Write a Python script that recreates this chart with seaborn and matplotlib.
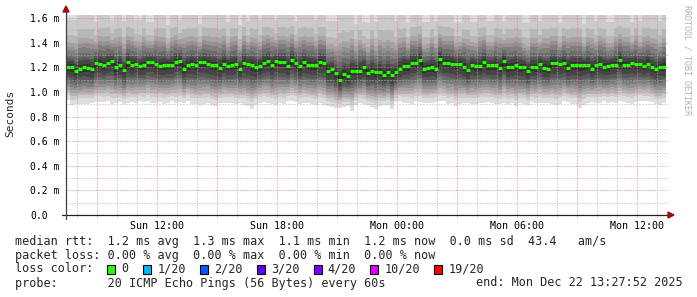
import numpy as np
import pandas as pd
import matplotlib
matplotlib.use("Agg")
import matplotlib.pyplot as plt
import matplotlib.transforms as mtransforms
from matplotlib.patches import Rectangle, Polygon
import seaborn as sns

# ---------------- data ----------------
# median RTT per 12-minute bin (ms)
median_ms = [
    1.205, 1.20, 1.173, 1.19, 1.20, 1.195, 1.185, 1.235, 1.23, 1.215,
    1.235, 1.25, 1.20, 1.215, 1.18, 1.24, 1.215, 1.23, 1.21, 1.215,
    1.24, 1.24, 1.225, 1.21, 1.22, 1.22, 1.22, 1.245, 1.255, 1.19,
    1.215, 1.23, 1.215, 1.24, 1.24, 1.23, 1.22, 1.215, 1.195, 1.23,
    1.21, 1.215, 1.225, 1.19, 1.235, 1.225, 1.215, 1.20, 1.21, 1.235,
    1.25, 1.215, 1.25, 1.24, 1.24, 1.21, 1.26, 1.235, 1.21, 1.24,
    1.22, 1.22, 1.22, 1.24, 1.235, 1.173, 1.185, 1.15, 1.10, 1.145,
    1.13, 1.173, 1.17, 1.17, 1.20, 1.15, 1.173, 1.16, 1.165, 1.135,
    1.16, 1.135, 1.16, 1.19, 1.21, 1.21, 1.235, 1.235, 1.26, 1.19,
    1.195, 1.20, 1.19, 1.265, 1.235, 1.235, 1.225, 1.225, 1.23, 1.205,
    1.175, 1.22, 1.21, 1.21, 1.24, 1.215, 1.215, 1.22, 1.195, 1.255,
    1.20, 1.205, 1.22, 1.20, 1.205, 1.173, 1.20, 1.20, 1.23, 1.195,
    1.19, 1.232, 1.232, 1.225, 1.232, 1.195, 1.22, 1.215, 1.215, 1.22,
    1.22, 1.19, 1.215, 1.225, 1.205, 1.21, 1.22, 1.22, 1.26, 1.22,
    1.22, 1.235, 1.225, 1.225, 1.21, 1.23, 1.20, 1.185, 1.205, 1.205,
]
# fastest ping per bin (bottom edge of the smoke, ms)
smoke_low_ms = [
    0.931, 0.890, 0.904, 0.904, 0.904, 0.904, 0.910, 0.915, 0.918, 0.918,
    0.923, 0.901, 0.910, 0.915, 0.901, 0.910, 0.915, 0.910, 0.923, 0.918,
    0.928, 0.912, 0.912, 0.918, 0.904, 0.910, 0.923, 0.912, 0.918, 0.910,
    0.928, 0.901, 0.901, 0.896, 0.901, 0.907, 0.890, 0.882, 0.910, 0.910,
    0.912, 0.910, 0.901, 0.912, 0.896, 0.882, 0.863, 0.896, 0.910, 0.918,
    0.910, 0.901, 0.890, 0.910, 0.901, 0.923, 0.923, 0.918, 0.901, 0.910,
    0.910, 0.901, 0.890, 0.910, 0.896, 0.882, 0.874, 0.869, 0.869, 0.874,
    0.882, 0.847, 0.890, 0.910, 0.901, 0.890, 0.874, 0.863, 0.882, 0.890,
    0.896, 0.863, 0.918, 0.923, 0.910, 0.910, 0.901, 0.923, 0.918, 0.910,
    0.910, 0.910, 0.918, 0.923, 0.923, 0.901, 0.910, 0.882, 0.901, 0.910,
    0.910, 0.901, 0.901, 0.910, 0.910, 0.918, 0.910, 0.901, 0.901, 0.910,
    0.901, 0.910, 0.882, 0.910, 0.901, 0.896, 0.918, 0.910, 0.910, 0.910,
    0.910, 0.901, 0.890, 0.901, 0.923, 0.918, 0.901, 0.901, 0.869, 0.896,
    0.910, 0.918, 0.910, 0.910, 0.923, 0.910, 0.918, 0.910, 0.923, 0.918,
    0.910, 0.901, 0.918, 0.928, 0.928, 0.923, 0.918, 0.901, 0.896, 0.910,
]
# second-slowest ping per bin (ms); values above the chart top are clipped
smoke_high_ms = [
    1.585, 1.585, 1.585, 1.66, 1.66, 1.66, 1.66, 1.57, 1.66, 1.66,
    1.66, 1.585, 1.66, 1.66, 1.575, 1.66, 1.66, 1.585, 1.585, 1.66,
    1.57, 1.57, 1.66, 1.66, 1.66, 1.545, 1.66, 1.66, 1.585, 1.66,
    1.66, 1.66, 1.66, 1.555, 1.66, 1.66, 1.66, 1.66, 1.66, 1.66,
    1.57, 1.66, 1.66, 1.543, 1.66, 1.58, 1.66, 1.66, 1.585, 1.66,
    1.66, 1.66, 1.585, 1.66, 1.66, 1.66, 1.66, 1.575, 1.66, 1.66,
    1.66, 1.66, 1.585, 1.66, 1.66, 1.575, 1.575, 1.575, 1.66, 1.66,
    1.66, 1.66, 1.555, 1.66, 1.57, 1.56, 1.66, 1.57, 1.66, 1.66,
    1.66, 1.66, 1.58, 1.66, 1.66, 1.56, 1.66, 1.66, 1.66, 1.565,
    1.565, 1.66, 1.575, 1.66, 1.66, 1.66, 1.66, 1.56, 1.56, 1.66,
    1.66, 1.57, 1.57, 1.66, 1.66, 1.58, 1.58, 1.66, 1.66, 1.575,
    1.66, 1.66, 1.66, 1.66, 1.56, 1.56, 1.66, 1.66, 1.575, 1.66,
    1.66, 1.66, 1.66, 1.56, 1.66, 1.66, 1.66, 1.66, 1.66, 1.55,
    1.66, 1.66, 1.575, 1.66, 1.66, 1.565, 1.565, 1.66, 1.66, 1.66,
    1.66, 1.57, 1.66, 1.575, 1.66, 1.66, 1.66, 1.66, 1.58, 1.66,
]
# shape of the ping distribution inside a bin (fraction of the distance median->edge)
ping_frac_below = [0.85, 0.76, 0.68, 0.60, 0.52, 0.43, 0.35, 0.25, 0.12]   # pings 2..10
ping_frac_above = [0.06, 0.13, 0.18, 0.26, 0.35, 0.43, 0.52, 0.68]         # pings 11..18

start_hour = 7 + 27 / 60 + 52 / 3600      # Sun 07:27:52 (hours since Sun 00:00)
span_hours = 30.0
bin_hours = 0.2

x_tick_hours = [12, 18, 24, 30, 36]
x_tick_labels = ["Sun 12:00", "Sun 18:00", "Mon 00:00", "Mon 06:00", "Mon 12:00"]
y_ticks_ms = [0.0, 0.2, 0.4, 0.6, 0.8, 1.0, 1.2, 1.4, 1.6]
y_tick_labels = ["0.0", "0.2 m", "0.4 m", "0.6 m", "0.8 m", "1.0 m", "1.2 m", "1.4 m", "1.6 m"]
y_top = 1.625

stats_line = "median rtt:  1.2 ms avg  1.3 ms max  1.1 ms min  1.2 ms now  0.0 ms sd  43.4   am/s"
loss_line = "packet loss: 0.00 % avg  0.00 % max  0.00 % min  0.00 % now"
loss_title = "loss color:"
loss_labels = ["0", "1/20", "2/20", "3/20", "4/20", "10/20", "19/20"]
loss_colors = ["#26ff00", "#00b8ff", "#0059ff", "#5e00ff", "#7e00ff", "#dd00ff", "#ff0000"]
probe_text = "probe:       20 ICMP Echo Pings (56 Bytes) every 60s"
end_text = "end: Mon Dec 22 13:27:52 2025"

# ---------------- figure ----------------
sns.set_style("white")
plt.rcParams["font.family"] = ["DejaVu Sans Mono", "DejaVu Sans"]
plt.rcParams["lines.scale_dashes"] = False

W, H = 697, 297
fig = plt.figure(figsize=(W / 100, H / 100), dpi=100, facecolor="white")
ax = fig.add_axes([66 / W, (H - 215) / H, 600 / W, 200 / H])
ax.set_facecolor("white")
for s in ax.spines.values():
    s.set_visible(False)
ax.set_xlim(start_hour, start_hour + span_hours)
ax.set_ylim(0, y_top)

px = mtransforms.Affine2D().scale(1 / W, -1 / H).translate(0, 1) + fig.transFigure  # pixel coords, y from top

n = len(median_ms)
med = np.array(median_ms)
lo = np.array(smoke_low_ms[:n])
hi = np.array(smoke_high_ms[:n])
x_edges = start_hour + bin_hours * np.arange(n + 1)

# 20 sorted pings per bin
pings = [lo]
for f in ping_frac_below:
    pings.append(med - f * (med - lo))
for f in ping_frac_above:
    pings.append(med + f * (hi - med))
pings.append(hi)
pings.append(np.full(n, y_top + 0.5))

def ext(a):
    return np.append(a, a[-1])

half = 10
for i in range(1, half + 1):
    g = int(190 / half * (half - i)) + 50
    col = "#%02x%02x%02x" % (g, g, g)
    ax.fill_between(x_edges, ext(pings[i - 1]), ext(pings[20 - i]), step="post",
                    color=col, linewidth=0, antialiased=False, zorder=1)

# grid (drawn on top of the smoke like rrdtool), 1px dots
dots = (0, (0.72, 1.44))
ytr = ax.get_yaxis_transform()
xtr = ax.get_xaxis_transform()
minor_y = np.round(np.arange(0.1, 1.65, 0.2), 2)
grid_kw = dict(linewidth=0.72, linestyles=dots, clip_on=False, zorder=3, snap=True)
ax.hlines(minor_y, 0, 602 / 600, transform=ytr, colors="#b0b0b0", **grid_kw)
ax.hlines(y_ticks_ms[1:], 0, 602 / 600, transform=ytr, colors="#e87878", **grid_kw)
hours = np.arange(np.ceil(start_hour), start_hour + span_hours + 1e-9)
minor_x = [h for h in hours if int(h) % 3 != 0]
major_x = [h for h in hours if int(h) % 3 == 0]
ax.vlines(minor_x, -0.012, 1.01, transform=xtr, colors="#b0b0b0", **grid_kw)
ax.vlines(major_x, -0.012, 1.01, transform=xtr, colors="#e87878", **grid_kw)

# median: dark step line + green per-bin segments
df = pd.DataFrame({"hour": x_edges, "median": ext(med)})
sns.lineplot(data=df, x="hour", y="median", ax=ax, drawstyle="steps-post",
             color="#202020", linewidth=0.8, estimator=None, zorder=5)
ax.hlines(med, x_edges[:-1], x_edges[1:], colors=loss_colors[0], linewidth=2.3,
          capstyle="butt", zorder=6)

# axes lines and arrows
ax.plot([-4 / 600, 603 / 600], [0, 0], transform=ax.transAxes, color="#202020",
        linewidth=0.9, clip_on=False, zorder=7)
ax.plot([0, 0], [-4 / 200, 1.03], transform=ax.transAxes, color="#404040",
        linewidth=0.9, clip_on=False, zorder=7)
fig.add_artist(Polygon([(668, 212), (674, 215), (668, 218)], closed=True,
                       transform=px, color="#9a1010", zorder=8))
fig.add_artist(Polygon([(63, 12), (66, 6), (69, 12)], closed=True,
                       transform=px, color="#9a1010", zorder=8))

# ticks
ax.set_xticks(x_tick_hours, x_tick_labels)
ax.tick_params(axis="x", length=0, pad=4, labelsize=7.2, colors="#000000")
ax.set_yticks(y_ticks_ms, y_tick_labels)
ax.tick_params(axis="y", length=0, pad=36 * 0.72, labelsize=7.0, colors="#000000")
for lab in ax.get_yticklabels():
    lab.set_horizontalalignment("left")
ax.set_xlabel("")
ax.set_ylabel("")

# side texts
fig.text(10 / W, 1 - 113 / H, "Seconds", rotation=90, ha="center", va="center",
         fontsize=8.0)
fig.text(687 / W, 1 - 60 / H, "RRDTOOL / TOBI OETIKER", rotation=270, ha="center",
         va="center", fontsize=6.0, color="#b0b0b0")

# legend block
fs = 8.5
cw = 0.60205 * fs * 100 / 72
x0 = 15.0
rows_y = [241, 255, 269, 283]
fig.text(x0 / W, 1 - rows_y[0] / H, stats_line, fontsize=fs, ha="left", va="center")
fig.text(x0 / W, 1 - rows_y[1] / H, loss_line, fontsize=fs, ha="left", va="center")
fig.text(x0 / W, 1 - rows_y[2] / H, loss_title, fontsize=fs, ha="left", va="center")
cur = len(loss_title) + 2
for lab, col in zip(loss_labels, loss_colors):
    bx = x0 + cur * cw
    fig.add_artist(Rectangle((bx, rows_y[2] - 4.5), 8, 9, transform=px,
                             facecolor=col, edgecolor="black", linewidth=0.8))
    fig.text((x0 + (cur + 2) * cw) / W, 1 - rows_y[2] / H, lab, fontsize=fs,
             ha="left", va="center")
    cur = cur + 2 + len(lab) + 2
fig.text(x0 / W, 1 - rows_y[3] / H, probe_text, fontsize=fs, ha="left", va="center")
fig.text(683 / W, 1 - rows_y[3] / H, end_text, fontsize=fs, ha="right", va="center")

fig.savefig("out.png", dpi=100, facecolor="white")
